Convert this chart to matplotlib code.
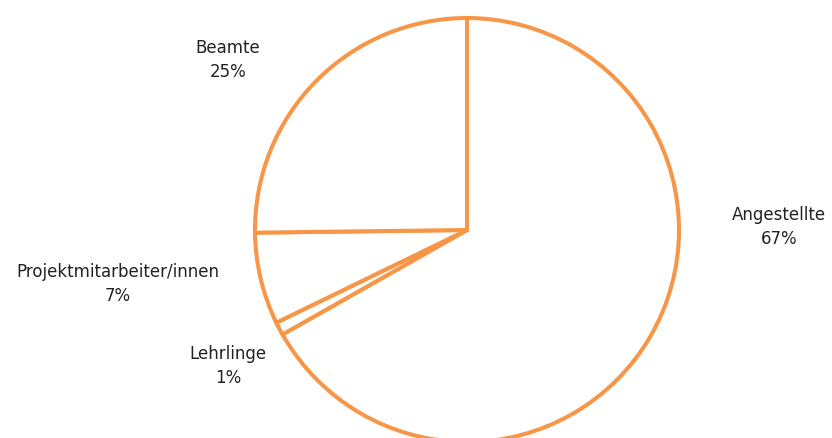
import matplotlib
matplotlib.use("Agg")
import matplotlib.pyplot as plt

# ── data ──────────────────────────────────────────────────────────────────────
categories = ["Angestellte", "Lehrlinge", "Projektmitarbeiter/innen", "Beamte"]
shares     = [66.8, 1.0, 7.0, 25.2]
pct_labels = ["67%", "1%", "7%", "25%"]

ORANGE = "#F79646"
W, H = 832, 439

fig = plt.figure(figsize=(W / 100, H / 100), dpi=100)
ax = fig.add_axes([0, 0, 1, 1])

cx, cy, r = 467, H - 231, 212
ax.pie(shares, center=(cx, cy), radius=r, startangle=90, counterclock=False,
       colors=["white"] * len(shares),
       wedgeprops=dict(edgecolor=ORANGE, linewidth=2.9, joinstyle="miter"),
       frame=True)
ax.set_xlim(0, W)
ax.set_ylim(0, H)
ax.set_aspect("equal")
ax.axis("off")

# label positions (image px, centre of text block)
label_pos = [(779, 227), (228, 366), (118, 284), (228, 60)]
for name, pct, (x, y) in zip(categories, pct_labels, label_pos):
    ax.text(x, H - y, f"{name}\n{pct}", ha="center", va="center",
            fontsize=12, family="DejaVu Sans", color="#222222",
            linespacing=1.4)

fig.savefig("out.png", dpi=100)
